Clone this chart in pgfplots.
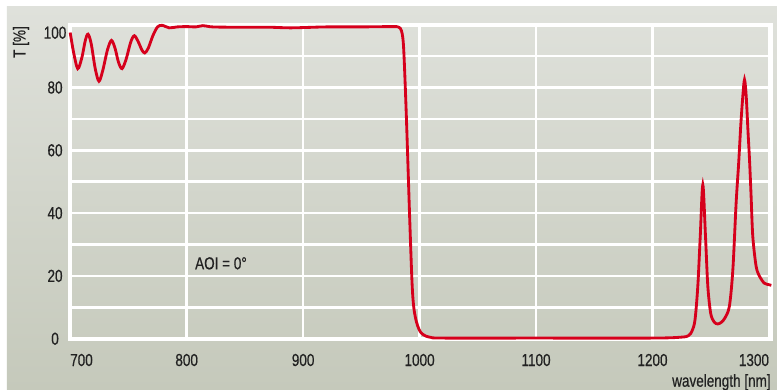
\documentclass[border=0pt]{standalone}
\usepackage{pgfplots}
\pgfplotsset{compat=1.18}
\usepackage{fontspec}
\setmainfont{Liberation Sans}[FakeStretch=0.78, FakeBold=0.6]
\setsansfont{Liberation Sans}[FakeStretch=0.78, FakeBold=0.6]

\definecolor{curvered}{RGB}{214,0,28}
\definecolor{labelgrey}{RGB}{34,34,34}
\definecolor{paneltop}{RGB}{223,225,219}
\definecolor{panelbottom}{RGB}{197,201,187}

\begin{document}
\begin{tikzpicture}[font=\fontsize{10.4}{12}\selectfont\color{labelgrey}]
% page extent and shaded panel
\useasboundingbox (-42.12pt,-30.18pt) rectangle (424.08pt,203.22pt);
\fill[white] (-42.12pt,-30.18pt) rectangle (424.08pt,203.22pt);
\shade[top color=paneltop, bottom color=panelbottom]
  (-37.92pt,-30.18pt) rectangle (424.08pt,199.02pt);

\begin{axis}[
  at={(0,0)}, anchor=south west,
  scale only axis,
  width=420.66pt, height=188.4pt,
  xmin=700, xmax=1302,
  ymin=0, ymax=100,
  clip=false,
  xtick={700,800,...,1300},
  xticklabels={\rlap{700},800,900,1000,1100,1200,\llap{1300}},
  ytick={0,20,...,80},
  minor ytick={10,30,...,90},
  extra y ticks={100},
  extra y tick style={yticklabel style={yshift=-4.8pt}},
  grid=both,
  major grid style={white, line width=1.6pt},
  minor grid style={white, line width=1.6pt},
  axis line style={white, line width=2.2pt},
  major tick length=0pt, minor tick length=0pt,
  /pgf/number format/assume math mode=true,
  /pgf/number format/1000 sep={},
  xticklabel style={anchor=center, yshift=-12.8pt, inner sep=0pt},
  yticklabel style={anchor=center, xshift=-9.1pt, inner sep=0pt},
  tick label style={font=\fontsize{10.4}{12}\selectfont\color{labelgrey}},
]
\addplot[curvered, line width=1.7pt, smooth, tension=0.5] coordinates {
  (700,97.5) (703,91) (706.5,86) (710,89.5) (713,95) (715.3,97)
  (718,94) (721.5,86) (724.7,82) (728,85.5) (732,92) (735.4,95)
  (738.5,92.5) (741.5,88) (744.5,86) (748,89) (752,94.5) (755.1,96.5)
  (758.5,94.5) (761.5,92) (764,91) (767,92.5) (771,96.5) (775,99.3)
  (779,99.8) (785,99) (792,99.3) (800,99.4) (808,99.3) (814,99.7)
  (822,99.3) (840,99.2) (870,99.2) (890,99.0) (920,99.3) (950,99.3)
  (977,99.4) (982,99.2) (984.5,98) (986.3,92.6) (988.6,71.3)
  (991.4,39.5) (993.5,18) (995,10) (997.2,5.5) (999.5,3) (1001.5,1.8)
  (1005,0.9) (1010,0.4) (1020,0.2) (1100,0.2) (1200,0.2) (1225,0.5)
  (1231,1) (1234,2.5) (1236.5,6) (1238.9,16.7) (1241,32.6) (1243.2,49)
  (1245.5,32.6) (1247.5,16.7) (1250,8) (1253,5.3) (1256,4.7) (1259,5.2)
  (1262,6.5) (1266,10.3) (1269,22) (1271.8,43.2) (1274,56) (1275.8,68)
  (1277.5,77) (1279,82.5) (1280.5,77) (1282,66) (1283.3,57) (1284.6,46)
  (1286.1,32.6) (1289,23) (1292,19.8) (1296,17.7) (1300,17.2) (1302,17)
};
\node[anchor=west, inner sep=0pt] at (axis cs:807,24) {AOI = 0°};
\end{axis}

% axis titles
\node[rotate=90, inner sep=0pt] at (-29.52pt,178.02pt) {T [\%]};
\node[anchor=base east, inner sep=0pt] at (420.48pt,-28.8pt) {wavelength [nm]};
\end{tikzpicture}
\end{document}
